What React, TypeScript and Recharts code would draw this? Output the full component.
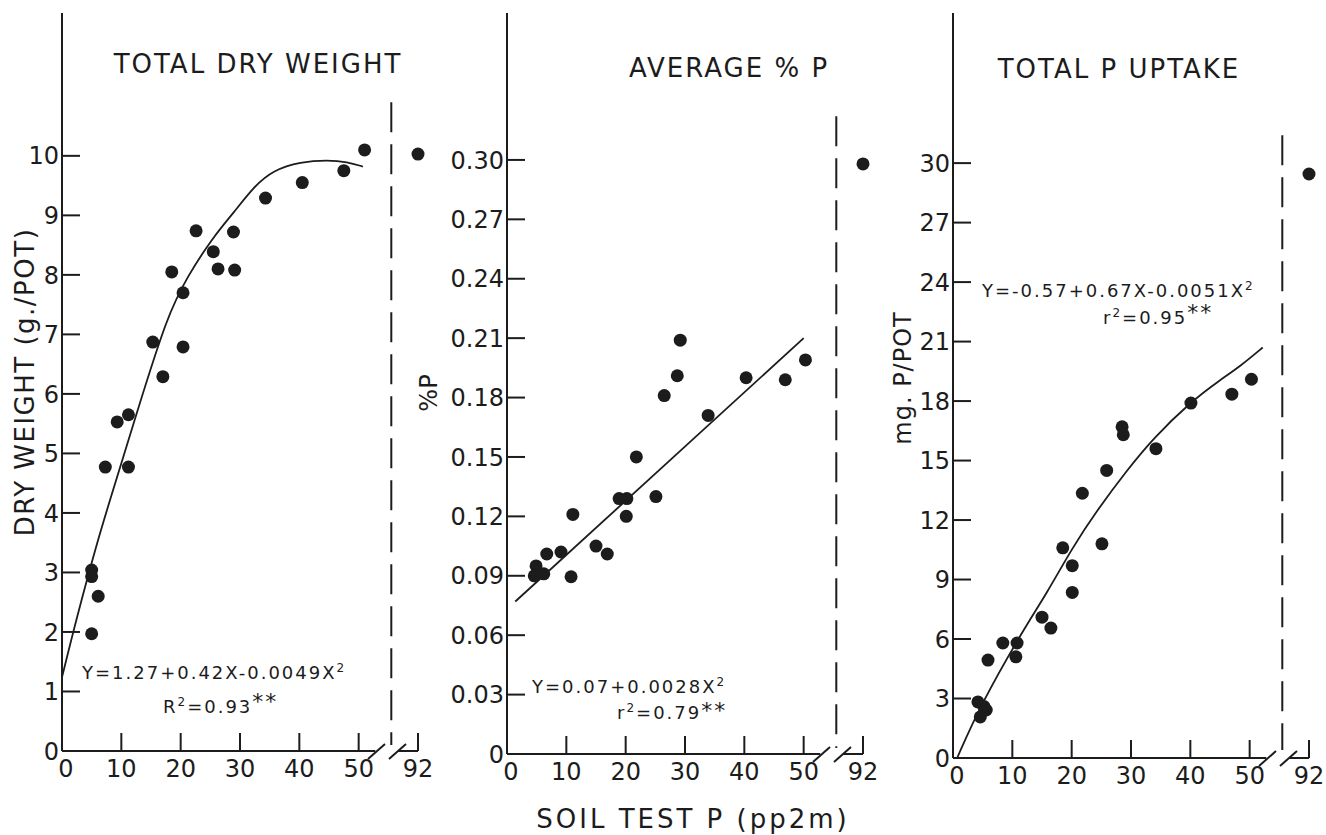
import React from 'react';
import { ComposedChart, Scatter, Line, XAxis, YAxis, ReferenceLine } from 'recharts';

const FONT = '"DejaVu Sans", sans-serif';
const INK = '#1c1c1c';

// broken x axis: the 92 ppm pots are drawn at this position past the break
const OUTLIER_X = 92;
const BREAK_AT = 60;
const xTicks = [0, 10, 20, 30, 40, 50, 60];

// Total dry weight (g./pot)
const dryWeightX = [51, 47.5, 40.5, 34.3, 22.6, 28.9, 25.5, 26.3, 29.1, 18.5, 20.4, 15.3, 20.4, 17, 9.3, 11.2, 7.3, 11.2, 5, 5, 6.1, 5, 92];
const dryWeightY = [10.1, 9.75, 9.55, 9.29, 8.74, 8.72, 8.39, 8.1, 8.08, 8.05, 7.7, 6.87, 6.79, 6.29, 5.53, 5.65, 4.77, 4.77, 3.04, 2.93, 2.6, 1.97, 10.03];
const dryWeightFitX = [0, 2.5, 5.9, 8.1, 12.9, 17.7, 21.1, 25.5, 28.9, 32.3, 35.6, 40.2, 44.8, 48.1, 50.7];
const dryWeightFitY = [1.24, 2.25, 3.5, 4.22, 5.78, 7.3, 7.97, 8.64, 9.04, 9.48, 9.76, 9.9, 9.93, 9.9, 9.82];
const dryWeightTicks = [0, 1, 2, 3, 4, 5, 6, 7, 8, 9, 10];

// Average % P
const pctPX = [29.2, 28.7, 26.5, 40.3, 46.9, 50.3, 33.9, 21.8, 18.9, 20.2, 20.1, 25.1, 11.1, 15, 16.9, 9.1, 6.7, 4.9, 4.6, 6.2, 10.8, 92];
const pctPY = [0.209, 0.191, 0.181, 0.19, 0.189, 0.199, 0.171, 0.15, 0.129, 0.129, 0.12, 0.13, 0.121, 0.105, 0.101, 0.102, 0.101, 0.095, 0.09, 0.091, 0.0895, 0.298];
const pctPFitX = [1.4, 50];
const pctPFitY = [0.077, 0.21];
const pctPTicks = [0, 0.03, 0.06, 0.09, 0.12, 0.15, 0.18, 0.21, 0.24, 0.27, 0.3];

// Total P uptake (mg. P/pot)
const uptakeX = [50.3, 47, 40.1, 34.2, 28.5, 28.7, 25.9, 21.8, 25.1, 18.5, 20.1, 20.1, 15, 16.5, 8.4, 10.8, 10.6, 5.9, 4.2, 5.6, 4.6, 5.2, 92];
const uptakeY = [19.1, 18.35, 17.9, 15.6, 16.7, 16.3, 14.5, 13.35, 10.8, 10.6, 9.7, 8.35, 7.1, 6.55, 5.8, 5.8, 5.1, 4.94, 2.83, 2.42, 2.07, 2.6, 29.45];
const uptakeFitX = [0.7, 4.5, 11.8, 15.8, 20.1, 24.3, 29.3, 33.7, 40, 45, 48.4, 52.2];
const uptakeFitY = [0, 2.6, 6.45, 8.3, 10.6, 12.5, 14.5, 16.1, 17.95, 19.06, 19.75, 20.7];
const uptakeTicks = [0, 3, 6, 9, 12, 15, 18, 21, 24, 27, 30];

const toPoints = (xs: number[], ys: number[]) =>
  xs.map((x, i) => ({ x: x === OUTLIER_X ? BREAK_AT : x, y: ys[i] }));

const XTick = ({ x, y, payload }: any) => {
  const v = payload.value;
  const isBreak = v === BREAK_AT;
  return (
    <g>
      {v !== 0 && <line x1={x} y1={y} x2={x} y2={y - 18} stroke={INK} strokeWidth={2} />}
      <text x={v === 0 ? x + 4 : x} y={y + 26} textAnchor="middle" fontSize={24} fontFamily={FONT} fill={INK}>
        {isBreak ? OUTLIER_X : v}
      </text>
      {isBreak && (
        <>
          <line x1={x - 50} y1={y + 8} x2={x - 33} y2={y - 7} stroke={INK} strokeWidth={2} />
          <line x1={x - 29} y1={y + 8} x2={x - 12} y2={y - 7} stroke={INK} strokeWidth={2} />
          <line x1={x - 20} y1={y} x2={x} y2={y} stroke={INK} strokeWidth={2} />
        </>
      )}
    </g>
  );
};

const YTick = ({ x, y, payload, fmt }: any) => {
  const v = payload.value;
  return (
    <g>
      {v !== 0 && <line x1={x} y1={y} x2={x + 18} y2={y} stroke={INK} strokeWidth={2} />}
      <text x={x - 3} y={y} dy="0.36em" textAnchor="end" fontSize={24} fontFamily={FONT} fill={INK}>
        {fmt(v)}
      </text>
    </g>
  );
};

const Dot = (p: any) => <circle cx={p.cx} cy={p.cy} r={6.5} fill={INK} />;

interface PanelProps {
  left: number;
  width: number;
  axisX: number;
  bottom: number;
  yTop: number;
  yTicks: number[];
  fmt: (v: number) => string;
  points: { x: number; y: number }[];
  fit: { x: number; y: number }[];
  curve: 'basis' | 'linear';
  dash: [number, number];
}

const PLOT_W = 356;
const X_AXIS_H = 40;
const Y_AXIS_W = 60;

const Panel = ({ left, width, axisX, bottom, yTop, yTicks, fmt, points, fit, curve, dash }: PanelProps) => (
  <div style={{ position: 'absolute', left, top: 0 }}>
    <ComposedChart
      width={width}
      height={835}
      margin={{
        top: 13,
        left: axisX - left - Y_AXIS_W,
        right: width - (axisX - left) - PLOT_W,
        bottom: 835 - bottom - X_AXIS_H,
      }}
    >
      <XAxis
        type="number"
        dataKey="x"
        domain={[0, BREAK_AT]}
        ticks={xTicks}
        interval={0}
        axisLine={false}
        tickLine={false}
        tickSize={0}
        tickMargin={0}
        height={X_AXIS_H}
        tick={(p: any) => <XTick {...p} />}
      />
      <YAxis
        type="number"
        dataKey="y"
        domain={[0, yTop]}
        ticks={yTicks}
        interval={0}
        axisLine={{ stroke: INK, strokeWidth: 2 }}
        tickLine={false}
        tickSize={0}
        tickMargin={0}
        width={Y_AXIS_W}
        tick={(p: any) => <YTick {...p} fmt={fmt} />}
      />
      <ReferenceLine segment={[{ x: 0, y: 0 }, { x: 52.8, y: 0 }]} stroke={INK} strokeWidth={2} />
      <ReferenceLine
        segment={[{ x: 55.5, y: dash[1] }, { x: 55.5, y: dash[0] }]}
        stroke={INK}
        strokeWidth={2}
        strokeDasharray="30 12"
      />
      <Line data={fit} dataKey="y" type={curve} stroke={INK} strokeWidth={1.8} dot={false} isAnimationActive={false} />
      <Scatter data={points} dataKey="y" shape={Dot} isAnimationActive={false} />
    </ComposedChart>
  </div>
);

const txt = { fontFamily: FONT, fill: INK } as const;
const eq = { fontSize: 18, letterSpacing: 2, ...txt };

const Sq = () => (
  <tspan dy={-7} fontSize={12}>
    2
  </tspan>
);

export default function App() {
  return (
    <div style={{ position: 'absolute', left: 0, top: 0, width: 1326, height: 835, background: '#fff', overflow: 'hidden' }}>
      <Panel
        left={0}
        width={440}
        axisX={62}
        bottom={751}
        yTop={12.4}
        yTicks={dryWeightTicks}
        fmt={(v) => String(v)}
        points={toPoints(dryWeightX, dryWeightY)}
        fit={toPoints(dryWeightFitX, dryWeightFitY)}
        curve="basis"
        dash={[0.1, 10.9]}
      />
      <Panel
        left={440}
        width={440}
        axisX={507}
        bottom={754}
        yTop={0.3742}
        yTicks={pctPTicks}
        fmt={(v) => (v === 0 ? '0' : v.toFixed(2))}
        points={toPoints(pctPX, pctPY)}
        fit={toPoints(pctPFitX, pctPFitY)}
        curve="linear"
        dash={[0.003, 0.322]}
      />
      <Panel
        left={880}
        width={446}
        axisX={953}
        bottom={758}
        yTop={37.57}
        yTicks={uptakeTicks}
        fmt={(v) => String(v)}
        points={toPoints(uptakeX, uptakeY)}
        fit={toPoints(uptakeFitX, uptakeFitY)}
        curve="basis"
        dash={[0.4, 31.4]}
      />

      {/* titles, axis labels and regression equations */}
      <svg width={1326} height={835} style={{ position: 'absolute', left: 0, top: 0, pointerEvents: 'none' }}>
        <text x={258} y={73} textAnchor="middle" fontSize={26} letterSpacing={2} {...txt}>TOTAL DRY WEIGHT</text>
        <text x={729} y={77} textAnchor="middle" fontSize={26} letterSpacing={2} {...txt}>AVERAGE % P</text>
        <text x={1119} y={78} textAnchor="middle" fontSize={26} letterSpacing={2} {...txt}>TOTAL P UPTAKE</text>

        <text x={34} y={382} transform="rotate(-90 34 382)" textAnchor="middle" fontSize={26} letterSpacing={1.5} {...txt}>DRY WEIGHT (g./POT)</text>
        <text x={437} y={393} transform="rotate(-90 437 393)" textAnchor="middle" fontSize={24} {...txt}>%P</text>
        <text x={911} y={378} transform="rotate(-90 911 378)" textAnchor="middle" fontSize={24} letterSpacing={1} {...txt}>mg. P/POT</text>

        <text x={693} y={828} textAnchor="middle" fontSize={26} letterSpacing={3} {...txt}>SOIL TEST P (pp2m)</text>

        <text x={82} y={679} {...eq}>
          Y=1.27+0.42X-0.0049X<Sq />
        </text>
        <text x={163} y={713} {...eq}>
          R<Sq />
          <tspan dy={7}>=0.93</tspan>
          <tspan dy={-4} fontSize={22}>**</tspan>
        </text>

        <text x={532} y={693} {...eq}>
          Y=0.07+0.0028X<Sq />
        </text>
        <text x={617} y={719} {...eq}>
          r<Sq />
          <tspan dy={7}>=0.79</tspan>
          <tspan dy={-1} fontSize={22}>**</tspan>
        </text>

        <text x={982} y={297} {...eq}>
          Y=-0.57+0.67X-0.0051X<Sq />
        </text>
        <text x={1103} y={324} {...eq}>
          r<Sq />
          <tspan dy={7}>=0.95</tspan>
          <tspan dy={-4} fontSize={22}>**</tspan>
        </text>
      </svg>
    </div>
  );
}
